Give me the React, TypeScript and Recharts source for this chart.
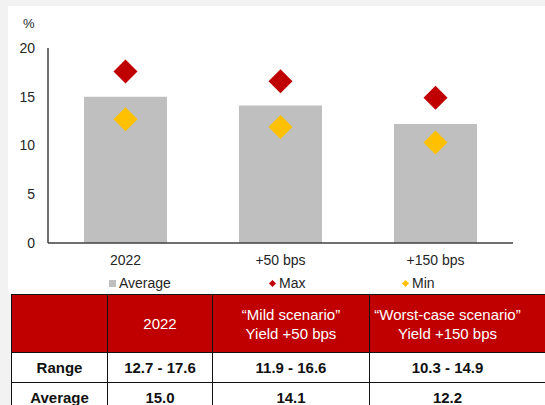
import React from "react";
import {
  ComposedChart,
  Bar,
  Scatter,
  XAxis,
  YAxis,
  Legend,
} from "recharts";

const categories = ["2022", "+50 bps", "+150 bps"];
const averageValues = [15.0, 14.1, 12.2];
const maxValues = [17.6, 16.6, 14.9];
const minValues = [12.7, 11.9, 10.3];
const yTicks = [0, 5, 10, 15, 20];

const headerLines = [["2022"], ["“Mild scenario”", "Yield +50 bps"], ["“Worst-case scenario”", "Yield +150 bps"]];
const rangeRow = ["12.7 - 17.6", "11.9 - 16.6", "10.3 - 14.9"];
const averageRow = ["15.0", "14.1", "12.2"];

const data = categories.map((name, i) => ({
  name,
  average: averageValues[i],
  max: maxValues[i],
  min: minValues[i],
}));

const FONT = "'Liberation Sans', Arial, sans-serif";
const RED = "#c00000";
const YELLOW = "#ffc000";
const GREY = "#bfbfbf";

function diamond(color: string, r: number) {
  return (props: any) => {
    const { cx, cy } = props;
    if (cx == null || cy == null) return <g />;
    return (
      <polygon
        points={`${cx},${cy - r} ${cx + r},${cy} ${cx},${cy + r} ${cx - r},${cy}`}
        fill={color}
      />
    );
  };
}

function LegendContent() {
  const item = (left: number, icon: React.ReactNode, label: string) => (
    <div style={{ position: "absolute", left, top: 0, display: "flex", alignItems: "center" }}>
      {icon}
      <span style={{ marginLeft: 3 }}>{label}</span>
    </div>
  );
  return (
    <div style={{ position: "relative", height: 18, fontSize: 14, color: "#262626", fontFamily: FONT }}>
      {item(101, <span style={{ width: 7, height: 7, background: GREY, display: "inline-block" }} />, "Average")}
      {item(261, <span style={{ width: 5, height: 5, background: RED, transform: "rotate(45deg)", display: "inline-block", margin: "0 1px" }} />, "Max")}
      {item(394, <span style={{ width: 5, height: 5, background: YELLOW, transform: "rotate(45deg)", display: "inline-block", margin: "0 1px" }} />, "Min")}
    </div>
  );
}

const cell: React.CSSProperties = {
  border: "1.5px solid #111",
  textAlign: "center",
  padding: 0,
};

export default function App() {
  return (
    <div
      style={{
        position: "absolute",
        left: 0,
        top: 0,
        width: 545,
        height: 405,
        background: "#f2f2f2",
        overflow: "hidden",
        fontFamily: FONT,
      }}
    >
      <div style={{ position: "absolute", left: 8, top: 6, width: 537, height: 288, background: "#fff" }}>
        <div style={{ position: "absolute", left: 15, top: 10, fontSize: 13, color: "#262626" }}>%</div>
        <ComposedChart
          width={537}
          height={288}
          data={data}
          margin={{ top: 42, right: 32, bottom: 0, left: 0 }}
          barCategoryGap="23%"
        >
          <XAxis
            dataKey="name"
            axisLine={{ stroke: "#404040", strokeWidth: 1.5 }}
            tickLine={false}
            tick={{ fontSize: 14, fill: "#262626", fontFamily: FONT }}
            tickMargin={6}
            height={33}
          />
          <YAxis
            domain={[0, 20]}
            ticks={yTicks}
            width={40}
            axisLine={{ stroke: "#404040", strokeWidth: 1.5 }}
            tickLine={false}
            tick={{ fontSize: 14, fill: "#262626", fontFamily: FONT }}
            tickMargin={7}
          />
          <Legend
            verticalAlign="bottom"
            align="left"
            content={<LegendContent />}
            wrapperStyle={{ left: 0, bottom: 1, width: 537 }}
          />
          <Bar dataKey="average" name="Average" fill={GREY} barSize={83} isAnimationActive={false} />
          <Scatter dataKey="max" name="Max" fill={RED} shape={diamond(RED, 12)} isAnimationActive={false} />
          <Scatter dataKey="min" name="Min" fill={YELLOW} shape={diamond(YELLOW, 12)} isAnimationActive={false} />
        </ComposedChart>
      </div>
      <table
        style={{
          position: "absolute",
          left: 11,
          top: 294,
          borderCollapse: "collapse",
          tableLayout: "fixed",
          width: 560,
          fontFamily: FONT,
          fontSize: 15,
          background: "#fff",
        }}
      >
        <colgroup>
          <col style={{ width: 96 }} />
          <col style={{ width: 105 }} />
          <col style={{ width: 157 }} />
          <col style={{ width: 202 }} />
        </colgroup>
        <tbody>
          <tr style={{ height: 58, background: RED, color: "#fff" }}>
            <td style={cell}></td>
            {headerLines.map((lines, i) => (
              <td key={i} style={{ ...cell, lineHeight: "19px", paddingRight: i === 2 ? 46 : 0 }}>
                {lines.map((l, j) => (
                  <div key={j}>{l}</div>
                ))}
              </td>
            ))}
          </tr>
          <tr style={{ height: 30, fontWeight: "bold", color: "#111" }}>
            <td style={cell}>Range</td>
            {rangeRow.map((v, i) => (
              <td key={i} style={{ ...cell, paddingRight: i === 2 ? 46 : 0 }}>{v}</td>
            ))}
          </tr>
          <tr style={{ height: 30, fontWeight: "bold", color: "#111" }}>
            <td style={cell}>Average</td>
            {averageRow.map((v, i) => (
              <td key={i} style={{ ...cell, paddingRight: i === 2 ? 46 : 0 }}>{v}</td>
            ))}
          </tr>
        </tbody>
      </table>
    </div>
  );
}
